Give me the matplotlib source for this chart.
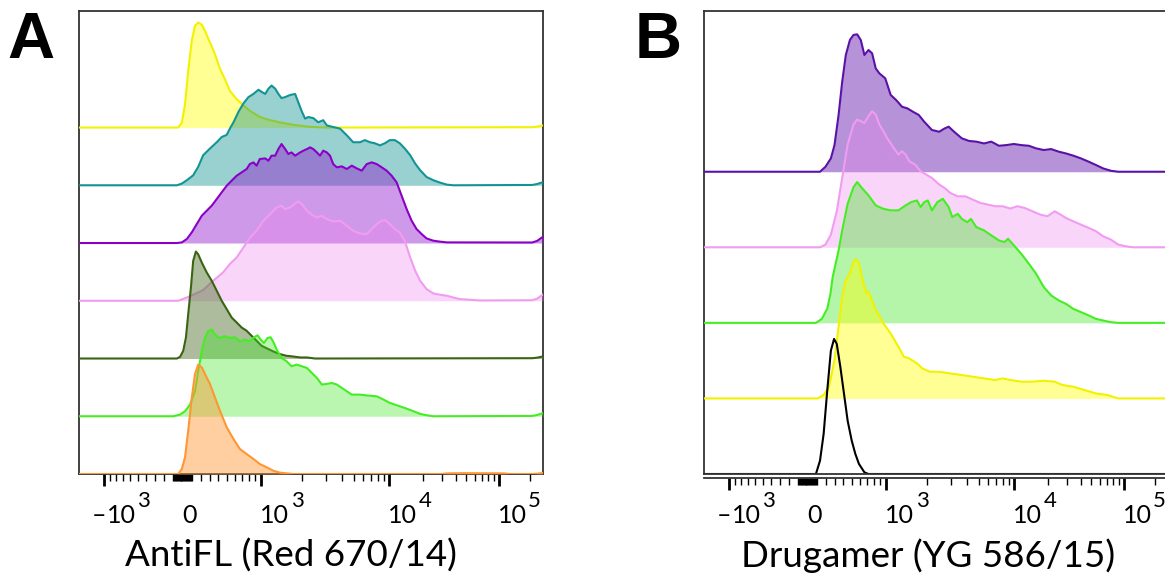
import numpy as np
import matplotlib
matplotlib.use("Agg")
import matplotlib.pyplot as plt
from matplotlib.transforms import blended_transform_factory

# ---------------------------------------------------------------------------
# Logicle (biexponential) display used for the x axis, 1024 display channels
# ---------------------------------------------------------------------------
T_MAX = 262144.0
M_DEC = 4.42
W_LIN = 0.985
N_CHAN = 1024

# Histogram data: x in logicle display channels, y in % of mode
# Panel A: AntiFL (Red 670/14), top to bottom
a_yellow_ch = [219, 227, 234, 241, 249, 256, 263, 271, 278, 289, 300, 311, 322, 333, 348, 363, 377,
               399, 422, 444, 473, 510, 547, 1000, 1011, 1024]
a_yellow_pct = [0, 4.8, 22, 54, 83, 97, 100, 98, 92, 81, 70, 56, 46, 35, 27, 21, 16,
                10, 7, 4.8, 2.6, 0.6, 0, 0.3, 0.8, 2]

a_teal_ch = [216, 227, 238, 252, 263, 274, 289, 304, 315, 326, 333, 341, 352, 363, 374, 385, 396, 403,
             411, 418, 425, 433, 440, 447, 455, 466, 477, 484, 492, 499, 506, 517, 528, 539, 547, 561,
             576, 591, 605, 620, 631, 642, 653, 664, 675, 686, 697, 708, 719, 731, 742, 753, 767, 782,
             797, 812, 826, 1000, 1011, 1024]
a_teal_pct = [0, 1.6, 4.8, 9.5, 17.5, 28.6, 35, 41, 46, 48, 54, 60, 70, 78, 84, 87, 91, 89,
              87, 92, 95, 92, 87, 83, 84, 86, 87, 79, 70, 63.5, 65, 64, 60, 62, 57, 55.5,
              54, 47.6, 41, 41, 43, 41, 40, 38, 40, 43, 43, 40, 35, 28.6, 20.6, 14.3, 7.9, 4.8,
              2.5, 0.6, 0, 0.3, 1.2, 3]

a_purple_ch = [216, 227, 238, 249, 260, 271, 282, 293, 304, 315, 326, 337, 348, 359, 370, 377, 385,
               392, 399, 411, 418, 425, 433, 440, 447, 455, 462, 469, 477, 488, 495, 503, 510, 517,
               525, 532, 539, 547, 554, 561, 569, 580, 591, 602, 613, 624, 635, 646, 657, 668, 679,
               690, 701, 712, 723, 734, 745, 756, 767, 782, 797, 812, 1000, 1011, 1024]
a_purple_pct = [0, 0.6, 3.8, 10.2, 18.1, 26, 30.8, 35.6, 41.9, 48.3, 54.6, 59.4, 64.1, 67.3, 70.5,
                75.2, 76.8, 73.7, 80, 80.6, 78.4, 83.2, 83.2, 89.5, 94.3, 89.5, 84.8, 86.3, 83.2,
                86.3, 87.9, 89.5, 91.1, 89.5, 86.3, 83.2, 88, 86.3, 83.2, 75.2, 72.1, 73, 70.5, 73.7,
                71.1, 68.9, 75.2, 76.8, 75.2, 72.1, 68.9, 64.1, 57.8, 45.1, 32.4, 21.3, 13.3, 8.6,
                4.4, 2.2, 1.3, 0.6, 0.5, 2, 6]

a_pink_ch = [219, 238, 252, 274, 296, 318, 333, 348, 363, 377, 392, 407, 422, 436, 447, 455, 466,
             477, 484, 492, 503, 514, 525, 536, 547, 561, 576, 591, 605, 620, 635, 646, 657, 668,
             675, 686, 697, 708, 719, 731, 742, 753, 767, 782, 797, 812, 826, 841, 885, 1000, 1011, 1024]
a_pink_pct = [0, 3.1, 5.7, 10.2, 19, 27, 35, 41.2, 50.8, 60, 66.7, 76.2, 82.6, 88.9, 90.5, 87.3,
              88.9, 92.7, 94.6, 92.1, 85.7, 81.9, 79.3, 81, 77.8, 75.5, 76.2, 71.4, 66.7, 64.1, 63.5,
              68.3, 73, 76.2, 76.9, 73, 68.3, 65, 57.1, 41.2, 28.6, 19, 11.1, 7, 5.7, 4.8, 3.1, 1.6,
              0.3, 0.5, 2, 6]

a_olive_ch = [216, 223, 230, 236, 241, 247, 252, 258, 263, 271, 282, 293, 304, 315, 326, 337, 348,
              359, 370, 381, 392, 403, 414, 429, 444, 458, 473, 488, 503, 521, 1000, 1011, 1024]
a_olive_pct = [0, 1.6, 7.3, 20, 42.2, 67.6, 93, 101.9, 99.3, 91.4, 81.9, 74, 64.5, 55, 47, 39, 34.3,
               29.5, 26.4, 21.6, 16.9, 12.1, 9.8, 6.7, 4.1, 2.6, 1.9, 1, 1, 0, 0.3, 0.8, 2]

a_green_ch = [208, 223, 234, 245, 256, 263, 271, 278, 285, 293, 298, 304, 311, 322, 333, 344, 355,
              366, 377, 386, 394, 401, 408, 416, 423, 430, 438, 447, 458, 469, 480, 492, 503, 514,
              525, 536, 547, 558, 569, 580, 591, 602, 620, 638, 657, 672, 686, 701, 719, 738, 753,
              767, 782, 1000, 1011, 1024]
a_green_pct = [0, 1.6, 4.8, 11.1, 23.8, 42.9, 61.9, 74.6, 81, 82.6, 79.3, 76.2, 74.6, 76.2, 74.6,
               75.2, 71.4, 73, 71.4, 75.2, 77.1, 73, 69.8, 74.6, 75.2, 69.8, 61.9, 55.5, 52.4, 47.6,
               49.2, 47.6, 46, 41.2, 36.5, 30.2, 30.8, 31.7, 30.2, 27, 23.8, 20.6, 20.6, 19.7, 19,
               15.9, 12.7, 10.5, 7.9, 4.8, 2.2, 1, 0, 0.3, 1.2, 3]

a_orange_ch = [219, 227, 234, 241, 249, 256, 263, 271, 278, 289, 300, 311, 326, 341, 355, 370, 385,
               399, 414, 429, 444, 473, 800, 812, 850, 900, 938, 950, 1000, 1011, 1024]
a_orange_pct = [0, 4.8, 15.9, 41.2, 73, 95.2, 104.1, 101.6, 95.2, 85.7, 73, 60.3, 44.5, 33.3, 23.8,
                19, 14.3, 9.5, 6.4, 3.1, 1.2, 0, 0, 0.6, 0.8, 0.7, 0.6, 0, 0, 0.3, 1]

# Panel B: Drugamer (YG 586/15), top to bottom
b_purple_ch = [256, 268, 280, 288, 297, 305, 313, 322, 330, 338, 346, 354, 363, 371, 379, 387, 400,
               412, 424, 437, 449, 461, 474, 486, 503, 519, 531, 540, 552, 569, 585, 601, 618, 634,
               651, 667, 684, 700, 717, 733, 750, 766, 783, 799, 815, 832, 849, 865, 881, 898, 914]
b_purple_pct = [0, 3.6, 9.7, 19.4, 41.3, 65.5, 85, 95.9, 99.6, 100, 95.9, 85, 88.6, 86.2, 75.2, 71.6,
                68, 55.9, 52.2, 47.3, 46.1, 43.7, 41.3, 36.4, 30.4, 29.1, 31.5, 32.8, 29.1, 24.3,
                22.4, 21.9, 20.6, 21.9, 18.9, 19.4, 20.2, 19.4, 18.9, 17, 15.8, 16.5, 14.6, 13.3,
                11.7, 9.7, 7.3, 4.9, 2.4, 0.7, 0]

b_pink_ch = [256, 268, 280, 293, 305, 317, 330, 338, 346, 354, 363, 371, 379, 387, 396, 404, 416,
             429, 437, 445, 453, 466, 478, 490, 503, 511, 519, 531, 544, 560, 577, 593, 610, 626,
             643, 659, 676, 692, 708, 725, 742, 758, 774, 787, 799, 815, 832, 849, 865, 881, 898,
             914, 931, 947]
b_pink_pct = [0, 2, 9.2, 26.2, 50.5, 74.8, 89.4, 93, 91.8, 90.5, 95.4, 99, 96.6, 89.4, 84.5, 79.6,
              73.6, 67.5, 69.9, 67.5, 62.6, 60.2, 55.4, 53, 50.5, 48.1, 45.7, 43.2, 39.5, 37.1, 37.1,
              34.7, 32.3, 31.1, 29.9, 29.9, 28.2, 29.9, 28.6, 26.2, 23.8, 22.6, 26.2, 23.8, 21.3,
              18.9, 16.5, 14.1, 11.7, 8, 5.6, 2, 0.7, 0]

b_green_ch = [247, 260, 272, 279, 284, 297, 305, 317, 330, 338, 350, 363, 379, 396, 412, 429, 445,
              457, 470, 478, 486, 494, 503, 515, 527, 540, 548, 560, 569, 581, 589, 601, 618, 634,
              651, 663, 671, 684, 700, 717, 733, 750, 766, 783, 799, 815, 832, 849, 865, 881, 898, 914]
b_green_pct = [0, 2.9, 10.2, 21.1, 33.3, 52.7, 67.3, 86.7, 98.8, 102.5, 97.6, 92.8, 85.5, 83, 81.9,
               81.9, 85.5, 87.9, 89.1, 84.3, 87.9, 89.1, 81.9, 87.9, 90.3, 84.3, 77, 79.4, 75.7,
               73.3, 75.7, 69.7, 67.3, 63.7, 60, 58.8, 61.2, 56.4, 50.3, 43, 35.7, 26, 20, 16.3,
               13.8, 10.2, 7.8, 5.4, 2.9, 1.7, 0.5, 0]

b_yellow_ch = [251, 264, 276, 288, 297, 305, 313, 322, 330, 336, 342, 350, 358, 363, 379, 396, 412,
               429, 441, 453, 470, 482, 499, 519, 544, 569, 593, 618, 643, 659, 676, 700, 725, 750,
               774, 791, 815, 840, 865, 890, 914]
b_yellow_pct = [0, 2.5, 8.5, 28, 52.2, 74.1, 86.2, 91, 99.6, 101.2, 98.3, 86.2, 76.5, 77.7, 64.4,
                54.6, 47.3, 37.7, 30.4, 29.1, 25.5, 21.8, 19.4, 19.4, 18.2, 17, 15.8, 14.6, 13.4,
                14.6, 13.4, 12.2, 12.2, 12.9, 12.2, 9.8, 8.5, 6.1, 3.6, 2.5, 0]

b_black_ch = [247, 256, 264, 272, 280, 287, 293, 301, 309, 317, 326, 334, 342, 354, 363]
b_black_pct = [0, 9.7, 29.1, 60.7, 89.8, 98.3, 94.7, 77.7, 58.3, 38.8, 24.3, 14.6, 7.3, 1.2, 0]

# Axis annotation
label_values = [-1000, 0, 1000, 10000, 100000]
label_parts = [("–", "10", "3"), ("", "0", ""), ("", "10", "3"), ("", "10", "4"), ("", "10", "5")]
major_values = [-1000, 1000, 10000, 100000]
xlabel_a = "AntiFL (Red 670/14)"
xlabel_b = "Drugamer (YG 586/15)"

RIDGE_STEP = 55.0


# ---------------------------------------------------------------------------
# Logicle transform helpers
# ---------------------------------------------------------------------------
def _logicle_p(w):
    ps = np.linspace(1.0001, 60.0, 200000)
    ws = 2.0 * ps * np.log10(ps) / (ps + 1.0)
    return float(np.interp(w, ws, ps))


P_LOG = _logicle_p(W_LIN)
K_LOG = T_MAX * 10.0 ** (-(M_DEC - W_LIN))


def logicle_value(z):
    a = np.abs(z)
    return np.sign(z) * K_LOG * (10.0 ** a - P_LOG ** 2 * 10.0 ** (-a / P_LOG) + P_LOG ** 2 - 1.0)


_zgrid = np.linspace(-W_LIN, M_DEC - W_LIN, 40001)
_vgrid = logicle_value(_zgrid)


def to_channel(v):
    z = np.interp(np.asarray(v, dtype=float), _vgrid, _zgrid)
    return N_CHAN * (z + W_LIN) / M_DEC


def minor_values():
    vals = [0.0]
    for n in range(1, 6):
        for k in range(1, 10):
            v = k * 10 ** n
            if v in major_values or -v in major_values:
                continue
            vals.extend([v, -v])
    lo, hi = _vgrid[0], _vgrid[-1]
    return [v for v in vals if lo <= v <= hi]


# ---------------------------------------------------------------------------
# Figure
# ---------------------------------------------------------------------------
plt.rcParams["font.family"] = ["Lato", "DejaVu Sans"]
fig = plt.figure(figsize=(11.65, 5.76), dpi=100)

FW, FH = 1165.0, 576.0
ax_a = fig.add_axes([79 / FW, 102 / FH, 464 / FW, 463 / FH])
ax_b = fig.add_axes([704 / FW, 102 / FH, 464 / FW, 463 / FH])

SPINE_C = "#333333"
PT = 0.72  # points per pixel at 100 dpi


def draw_ridges(ax, series, ytop):
    n = len(series)
    for i, (ch, pct, line_c, fill_c, alpha) in enumerate(series):
        base = (n - 1 - i) * RIDGE_STEP
        x = list(ch)
        y = list(pct)
        if x[0] > 0:
            x = [0] + x
            y = [0] + y
        if x[-1] < N_CHAN:
            x = x + [N_CHAN]
            y = y + [0]
        x = np.array(x, float)
        y = np.array(y, float) + base
        z = 2 + i * 2
        if fill_c is not None:
            ax.fill_between(x, base, y, color=fill_c, alpha=alpha, lw=0, zorder=z)
        ax.plot(x, y, color=line_c, lw=1.5, solid_joinstyle="round", zorder=z + 1)
    ax.set_xlim(0, N_CHAN)
    ax.set_ylim(0, ytop)
    ax.set_yticks([])


def style_axis(ax, xlabel_text, xlabel_center, letter, letter_x, double_bottom=False):
    for s in ax.spines.values():
        s.set_color(SPINE_C)
        s.set_linewidth(1.3)
    ax.set_xticks(to_channel(major_values), labels=[""] * len(major_values))
    ax.set_xticks(to_channel(minor_values()), minor=True)
    ax.tick_params(axis="x", which="major", length=8.5, width=2.0, color="black", direction="out")
    ax.tick_params(axis="x", which="minor", length=4.8, width=1.0, color="black", direction="out")
    if double_bottom:
        ax.spines["bottom"].set_position(("outward", 3))
        ax.plot([0, 1], [0, 0], transform=ax.transAxes, color=SPINE_C, lw=1.3,
                clip_on=False, zorder=50)

    trans = blended_transform_factory(ax.transData, ax.transAxes)
    for v, (sign, base, exp) in zip(label_values, label_parts):
        c = float(to_channel(v))
        if sign:
            base_dx = 3
        elif exp:
            base_dx = -1
        else:
            base_dx = 0
        if sign:
            ax.annotate(sign, xy=(c, 0), xycoords=trans, xytext=(base_dx * PT, -49 * PT),
                        textcoords="offset points", ha="right", va="baseline",
                        fontsize=18, annotation_clip=False)
        base_txt = ax.annotate(base, xy=(c, 0), xycoords=trans, xytext=(base_dx * PT, -49 * PT),
                               textcoords="offset points", ha="left", va="baseline",
                               fontsize=18, annotation_clip=False)
        if exp:
            # exponent sits just right of the "10", raised above its top
            ax.annotate(exp, xy=(1.0, 0), xycoords=(base_txt, ax.transAxes),
                        xytext=(1.5 * PT, -33 * PT), textcoords="offset points",
                        ha="left", va="baseline", fontsize=16, annotation_clip=False)

    fig.text(xlabel_center / FW, 9 / FH, xlabel_text, ha="center", va="baseline", fontsize=26.5)
    fig.text(letter_x / FW, (FH - 58) / FH, letter, ha="left", va="baseline",
             fontsize=47, fontweight="bold", family=["Liberation Sans", "DejaVu Sans"])


series_a = [
    (a_yellow_ch, a_yellow_pct, "#f2f200", "#ffff00", 0.42),
    (a_teal_ch, a_teal_pct, "#129494", "#008b8b", 0.40),
    (a_purple_ch, a_purple_pct, "#8a00c6", "#961ed2", 0.45),
    (a_pink_ch, a_pink_pct, "#f09cf0", "#ee82ee", 0.32),
    (a_olive_ch, a_olive_pct, "#3a6412", "#5a7a3a", 0.50),
    (a_green_ch, a_green_pct, "#44ee22", "#3ce61e", 0.35),
    (a_orange_ch, a_orange_pct, "#ff9633", "#ff9632", 0.45),
]
series_b = [
    (b_purple_ch, b_purple_pct, "#5a12a6", "#6e28b4", 0.50),
    (b_pink_ch, b_pink_pct, "#f09cf0", "#ee82ee", 0.32),
    (b_green_ch, b_green_pct, "#44ee22", "#3ce61e", 0.38),
    (b_yellow_ch, b_yellow_pct, "#f2f200", "#ffff00", 0.42),
    (b_black_ch, b_black_pct, "black", None, 0.0),
]

draw_ridges(ax_a, series_a, 441)
draw_ridges(ax_b, series_b, 337)

style_axis(ax_a, xlabel_a, 291, "A", 7)
style_axis(ax_b, xlabel_b, 928, "B", 635, double_bottom=True)

fig.savefig("out.png", dpi=100)
